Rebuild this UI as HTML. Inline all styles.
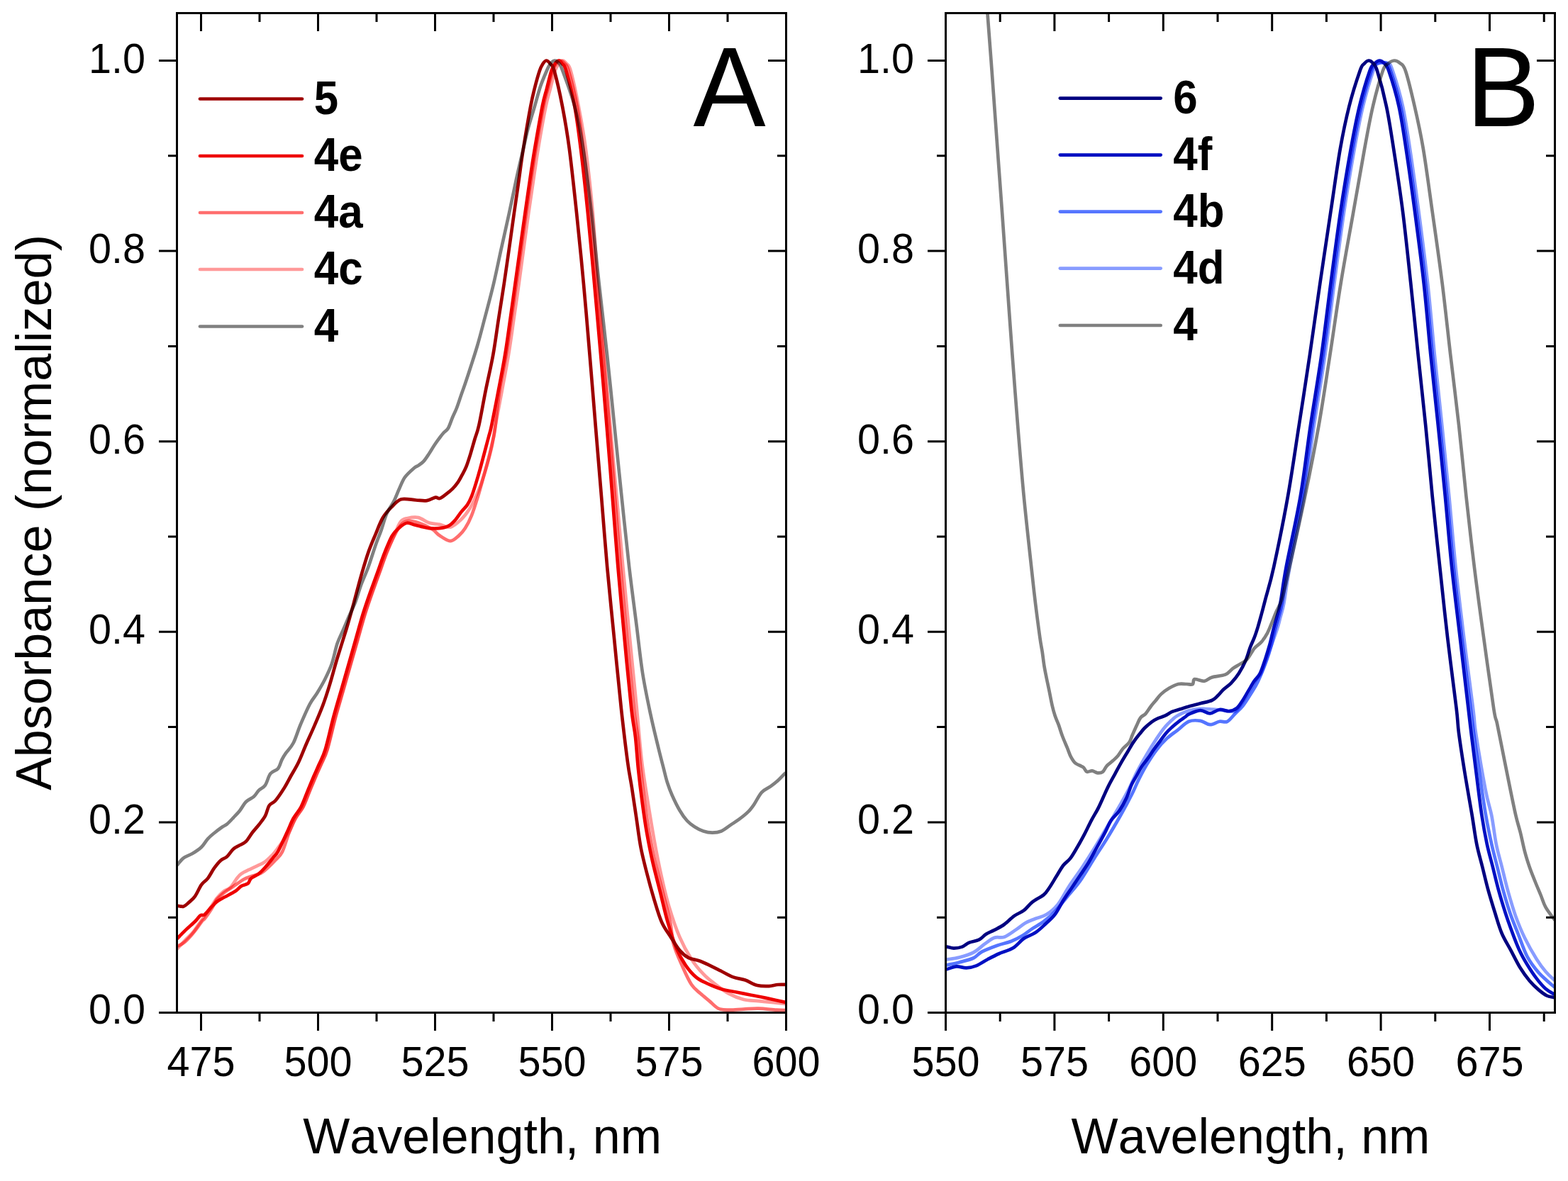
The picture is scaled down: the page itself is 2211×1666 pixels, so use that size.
<!DOCTYPE html>
<html><head><meta charset="utf-8"><title>Absorbance spectra</title>
<style>html,body{margin:0;padding:0;background:#fff;}svg{display:block;}text{font-family:'Liberation Sans', Arial, sans-serif;fill:#000;font-kerning:none;}.d{fill:none;stroke-width:4.7;stroke-linejoin:round;stroke-linecap:round;mix-blend-mode:multiply;}.ax{fill:none;stroke:#000;stroke-width:3;stroke-linecap:square;}.tk{stroke:#000;stroke-width:3;stroke-linecap:butt;}.lg{stroke-width:4.7;stroke-linecap:round;}</style></head><body>
<svg width="2211" height="1666" viewBox="0 0 2211 1666">
<rect width="2211" height="1666" fill="#fff"/>
<defs>
<clipPath id="clipA"><rect x="249.5" y="18.5" width="859.0" height="1410.0"/></clipPath>
<clipPath id="clipB"><rect x="1333.5" y="18.5" width="859.0" height="1410.0"/></clipPath>
</defs>
<g clip-path="url(#clipA)">
<path class="d" stroke="#808080" d="M248,1221 C248.4,1220.7 248.9,1221.1 250.7,1219.3 C252.5,1217.5 255.4,1212.8 258.8,1210.3 C262.2,1207.8 267.2,1206.5 271.4,1204 C275.6,1201.5 280.4,1198.5 284,1195 C287.6,1191.5 290,1186.6 293,1183.3 C296,1180 298.7,1177.9 302,1175.2 C305.3,1172.5 309.8,1169.1 312.8,1167 C315.8,1164.9 317.3,1164.8 320,1162.6 C322.7,1160.4 326,1156.8 329,1153.6 C332,1150.4 335,1147.5 338,1143.7 C341,1139.9 343.7,1134.3 347,1131 C350.3,1127.7 354.9,1126.5 357.9,1123.8 C360.9,1121.1 362.3,1117.5 365,1114.8 C367.7,1112.1 371.3,1111.5 374,1107.6 C376.7,1103.7 378.3,1095.3 381.3,1091.4 C384.3,1087.5 389.3,1087.5 392,1084.2 C394.7,1080.9 395.7,1075.2 397.5,1071.6 C399.3,1068 400.2,1066.5 402.9,1062.6 C405.6,1058.7 410.2,1054.8 413.7,1048 C417.2,1041.2 420,1030.8 423.9,1021.7 C427.8,1012.6 432.9,1000.6 436.8,993.3 C440.7,986 443.7,983.4 447.1,977.8 C450.5,972.2 453.9,966.7 457.4,959.8 C460.8,952.9 464.8,945.1 467.8,936.5 C470.8,927.9 472.9,915.9 475.5,908.1 C478.1,900.4 480.7,896 483.3,890 C485.9,884 488,878.9 491,872 C494,865.1 498.3,856.5 501.3,848.8 C504.3,841 506,833.7 509,825.5 C512,817.3 515.9,809.2 519.4,799.7 C522.9,790.2 526.7,777.3 529.7,768.7 C532.7,760.1 534.9,755.4 537.5,748.1 C540.1,740.8 542.2,731.8 545.2,724.9 C548.2,718 552.5,712.8 555.5,706.8 C558.5,700.8 560.7,694.3 563.3,688.7 C565.9,683.1 567.6,677.9 571,673.2 C574.4,668.5 580.7,663.1 583.9,660.3 C587.1,657.5 587.7,658.2 590,656.6 C592.3,655 595,653.4 597.5,650.6 C600,647.8 602.5,643.8 605,640 C607.5,636.2 610,631.8 612.5,628 C615,624.2 617.8,620.5 620,617.5 C622.2,614.5 624,612.2 626,610 C628,607.8 630,607.5 632,604 C634,600.5 636,593.8 638,589 C640,584.2 642,580.7 644,575.5 C646,570.3 647.7,564.8 650,558 C652.3,551.2 654.2,546.7 658,535 C661.8,523.3 668.7,502.7 673,488 C677.3,473.3 680.1,461.7 684,447 C687.9,432.3 692.3,416.2 696.1,400 C699.9,383.8 703.3,366.7 707,350 C710.7,333.3 714.6,316.2 718.1,300 C721.6,283.8 724.7,268 728,253 C731.3,238 735.1,222.2 737.9,210 C740.7,197.8 742.3,190 745,180 C747.7,170 751.1,159.7 753.9,150 C756.7,140.3 759.2,130.3 762,122 C764.8,113.7 768.5,105.3 770.8,100 C773.1,94.7 774.1,92.4 776,90 C777.9,87.6 780,85.7 782,85.5 C784,85.3 786.1,86.6 788,89 C789.9,91.4 789.7,89.8 793.4,100 C797.1,110.2 805.5,131.7 810.3,150 C815.1,168.3 818.4,185 822.4,210 C826.4,235 830.4,268.3 834.1,300 C837.8,331.7 841.1,366.7 844.7,400 C848.4,433.3 852.4,466.7 856,500 C859.6,533.3 862.9,566.7 866.3,600 C869.7,633.3 873,666.7 876.5,700 C880,733.3 883.7,769.3 887.2,800 C890.8,830.7 894.7,859.2 897.8,884 C900.9,908.8 902.8,928.4 906,949 C909.2,969.6 913.5,989.7 917.3,1007.6 C921.1,1025.5 925.6,1043.4 928.7,1056.3 C931.8,1069.2 934,1077 936,1085 C938,1093 939,1097.8 941,1104 C943,1110.2 944.9,1115.5 947.8,1122 C950.7,1128.5 954.8,1137 958.3,1143 C961.8,1149 965.3,1153.9 968.8,1157.8 C972.3,1161.7 975.4,1163.8 979.3,1166.2 C983.1,1168.7 987.7,1171.1 991.9,1172.5 C996.1,1173.9 1000.3,1174.6 1004.5,1174.6 C1008.7,1174.6 1012.9,1174.2 1017.1,1172.5 C1021.3,1170.8 1025.5,1166.9 1029.7,1164.1 C1033.9,1161.3 1038.1,1158.8 1042.3,1155.7 C1046.5,1152.6 1051.5,1148.7 1055,1145.2 C1058.5,1141.7 1060.2,1139.2 1063.4,1134.6 C1066.6,1130 1070.1,1122 1073.9,1117.8 C1077.8,1113.6 1082.7,1112.2 1086.5,1109.4 C1090.3,1106.6 1093.7,1104 1097,1101 C1100.3,1098 1104.2,1093.6 1106.4,1091.6 C1108.6,1089.6 1109.4,1089.4 1110,1089"/>
<path class="d" stroke="#9E0000" d="M248,1278 C248.4,1278 248.9,1277.7 250.7,1277.8 C252.5,1277.9 256.2,1279.5 258.8,1278.7 C261.4,1278 263.3,1275.7 266,1273.3 C268.7,1270.9 272,1268.5 275,1264.3 C278,1260.1 281,1252.3 284,1248.1 C287,1243.9 290,1243 293,1239.1 C296,1235.2 299,1228.9 302,1224.7 C305,1220.5 308,1216.6 311,1213.9 C314,1211.2 317,1211.2 320,1208.5 C323,1205.8 326,1200.4 329,1197.7 C332,1195 335,1194.1 338,1192.3 C341,1190.5 344,1189.9 347,1186.9 C350,1183.9 353,1178.2 356,1174.3 C359,1170.4 362,1167.4 365,1163.5 C368,1159.6 371.6,1155.4 374,1150.9 C376.4,1146.4 377.1,1140.1 379.5,1136.5 C381.9,1132.9 384.9,1133.4 388.5,1129.2 C392.1,1125 397.4,1116.9 401,1111.2 C404.6,1105.5 406.7,1101 410,1095 C413.3,1089 417.4,1082.7 421,1075.2 C424.6,1067.7 428.2,1058 431.7,1050 C435.2,1042 438.1,1035.9 442,1026.9 C445.9,1017.9 451,1006.2 454.9,995.9 C458.8,985.6 461.8,976.1 465.2,964.9 C468.6,953.7 471.6,941.7 475.5,928.8 C479.4,915.9 484.5,900.4 488.4,887.5 C492.3,874.6 495.2,863.8 498.7,851.3 C502.1,838.8 505.7,824.6 509.1,812.6 C512.6,800.6 516,789 519.4,779.1 C522.8,769.2 526.3,761.5 529.7,753.3 C533.1,745.1 536.1,736.5 540,730 C543.9,723.5 548.7,718.8 553,714.5 C557.3,710.2 560.3,705.7 565.9,704.2 C571.5,702.7 580.5,705.2 586.5,705.5 C592.5,705.8 597.4,706.8 602,706.1 C606.6,705.5 611,702.1 614,701.6 C617,701.1 617.5,703.9 620,703.1 C622.5,702.4 626,699.4 629,697.1 C632,694.9 635.2,692.4 638,689.6 C640.8,686.9 643.2,683.9 645.5,680.6 C647.8,677.4 649.5,673.9 651.5,670.1 C653.5,666.4 655.5,663.1 657.5,658.1 C659.5,653.1 661.5,646.6 663.5,640.1 C665.5,633.6 667.6,625.7 669.6,619 C671.6,612.3 672.7,611.5 675.3,600 C677.9,588.5 681.6,566.7 685,550 C688.4,533.3 692.4,516.7 695.4,500 C698.4,483.3 700.4,466.7 703,450 C705.6,433.3 708.3,416.7 710.8,400 C713.3,383.3 715.6,366.7 718,350 C720.4,333.3 722.8,315.8 725,300 C727.2,284.2 729.4,270 731.5,255 C733.6,240 735.1,227.5 737.9,210 C740.7,192.5 745.5,164.3 748.2,150 C750.9,135.7 751.9,132.3 754,124 C756.1,115.7 758.9,105.7 760.8,100 C762.7,94.3 763.9,92.4 765.5,90 C767.1,87.6 768.8,85.5 770.5,85.5 C772.2,85.5 774.1,87.6 776,90 C777.9,92.4 778.8,90 781.6,100 C784.4,110 789.5,131.7 793,150 C796.5,168.3 799.5,185 802.8,210 C806.1,235 809.6,268.3 813,300 C816.4,331.7 819.8,366.7 822.9,400 C826,433.3 828.7,466.7 831.5,500 C834.3,533.3 837,566.7 839.7,600 C842.5,633.3 845.2,666.7 848,700 C850.8,733.3 853.2,766.7 856.2,800 C859.2,833.3 862.7,866.7 866,900 C869.3,933.3 872.8,970.8 876,1000 C879.2,1029.2 882.5,1056.4 885,1075 C887.5,1093.6 889,1098.4 891,1111.5 C893,1124.6 895.2,1139.6 897.3,1153.6 C899.4,1167.6 901.1,1182.6 903.6,1195.6 C906.1,1208.5 908.9,1219 912,1231.3 C915.1,1243.6 919,1257.6 922.5,1269.2 C926,1280.8 929.1,1292 933,1300.7 C936.9,1309.5 941.5,1315.1 945.7,1321.7 C949.9,1328.3 954.1,1335.7 958.3,1340.6 C962.5,1345.5 966.3,1348.6 970.9,1351.1 C975.5,1353.5 980.7,1353.5 985.6,1355.3 C990.5,1357 995,1359.1 1000.3,1361.6 C1005.5,1364 1011.5,1367.2 1017.1,1370 C1022.7,1372.8 1028.3,1376.3 1033.9,1378.4 C1039.5,1380.5 1045.1,1380.7 1050.7,1382.6 C1056.3,1384.5 1062,1388.6 1067.6,1390 C1073.2,1391.4 1079.5,1391.3 1084.4,1391.1 C1089.3,1390.9 1092.7,1389.3 1097,1389 C1101.3,1388.7 1107.8,1389 1110,1389"/>
<path class="d" stroke="#EE0000" d="M248,1325 C248.5,1324.7 248.5,1325.3 250.9,1323 C253.3,1320.7 258.4,1315.2 262.4,1311.4 C266.4,1307.6 271.5,1303.3 274.9,1300 C278.3,1296.7 280.4,1292.9 282.6,1291.3 C284.8,1289.7 285.7,1292.2 288.3,1290.3 C290.9,1288.4 295.1,1282.8 298,1279.7 C300.9,1276.7 302.4,1274.4 305.6,1272 C308.8,1269.6 312.7,1267.8 317.2,1265.3 C321.7,1262.8 328.7,1259.2 332.5,1256.7 C336.3,1254.2 337.3,1251.8 340.2,1250 C343.1,1248.2 347.6,1247.9 349.8,1246.1 C352.1,1244.3 351.4,1241.5 353.7,1239.4 C355.9,1237.3 360.8,1235.4 363.3,1233.6 C365.9,1231.8 366.6,1231.2 369,1228.8 C371.4,1226.4 375,1222.4 377.7,1219.2 C380.4,1216 383,1212.6 385.4,1209.6 C387.8,1206.6 388.9,1206.9 392.1,1201 C395.3,1195.1 401.1,1182 404.7,1174.3 C408.3,1166.5 410.4,1160.5 413.7,1154.5 C417,1148.5 421.2,1144.6 424.5,1138.3 C427.8,1132 430.5,1123.8 433.5,1116.6 C436.5,1109.4 439.8,1101.3 442.5,1095 C445.2,1088.7 447,1085.1 449.7,1078.8 C452.4,1072.5 455.3,1068.4 458.7,1057.2 C462.1,1046 466.6,1025.1 470.3,1011.4 C474,997.7 477.2,987.2 480.7,975.2 C484.1,963.2 487.6,951.1 491,939.1 C494.4,927.1 497.9,915 501.3,903 C504.7,891 508.2,878 511.6,866.8 C515.1,855.6 518.5,845.8 522,835.9 C525.5,826 528.9,817 532.3,807.5 C535.7,798 539.1,787.7 542.6,779.1 C546.1,770.5 549.5,761.6 553,755.8 C556.5,750 559.9,747.2 563.3,744.2 C566.7,741.2 570.2,738.4 573.6,737.8 C577,737.1 580.5,739.4 583.9,740.3 C587.3,741.1 590.8,742.1 594.3,742.9 C597.8,743.7 600.7,744.7 605,745.1 C609.3,745.5 615.5,745.6 620,745.1 C624.5,744.6 628.5,743.9 632,742.1 C635.5,740.4 638,737.9 641,734.6 C644,731.4 647,726.4 650,722.6 C653,718.9 656.5,715.9 659,712.1 C661.5,708.4 663,705.1 665,700.1 C667,695.1 669,688.6 671,682.1 C673,675.6 675.1,668.4 677.1,661.1 C679.1,653.9 681.1,646.1 683.1,638.6 C685.1,631.1 687.4,622.4 689.1,616 C690.8,609.6 690.9,611 693.2,600 C695.5,589 699.8,566.7 703,550 C706.2,533.3 709.5,516.7 712.2,500 C715,483.3 717.1,466.7 719.5,450 C721.9,433.3 724.2,416.7 726.5,400 C728.8,383.3 731.2,366.7 733.5,350 C735.8,333.3 738.2,315.8 740.5,300 C742.8,284.2 744.8,270 747,255 C749.2,240 751,227.5 754,210 C757,192.5 761.9,164.2 764.7,150 C767.5,135.8 768.9,133.3 771,125 C773.1,116.7 775.6,105.8 777.5,100 C779.4,94.2 780.8,92.4 782.5,90 C784.2,87.6 786.1,85.5 787.9,85.5 C789.6,85.5 791.3,87.6 793,90 C794.7,92.4 795.4,90 798.3,100 C801.2,110 806.9,131.7 810.3,150 C813.7,168.3 815.8,185 818.9,210 C822,235 825.6,268.3 828.8,300 C832,331.7 835.1,366.7 838.1,400 C841.1,433.3 844.1,466.7 847,500 C849.9,533.3 852.8,566.7 855.5,600 C858.2,633.3 860.9,666.7 863.5,700 C866.1,733.3 868.6,766.7 871.4,800 C874.2,833.3 877.4,866.7 880.5,900 C883.6,933.3 887.7,976.7 890.3,1000 C892.9,1023.3 894.4,1025.8 896,1040 C897.6,1054.2 898.4,1069.6 900,1085 C901.6,1100.4 903.7,1117.6 905.7,1132.5 C907.7,1147.4 909.5,1160.6 912,1174.6 C914.5,1188.6 917.2,1202.6 920.4,1216.6 C923.6,1230.6 927.5,1244.6 931,1258.6 C934.5,1272.6 937.6,1287.4 941.5,1300.7 C945.4,1314 949.9,1328.3 954.1,1338.5 C958.3,1348.7 962.2,1354.9 966.7,1361.6 C971.2,1368.2 976.5,1374.2 981.4,1378.4 C986.3,1382.6 990.1,1384.1 996.1,1386.9 C1002.1,1389.7 1010.1,1393.2 1017.1,1395.3 C1024.1,1397.4 1031.1,1398.1 1038.1,1399.5 C1045.1,1400.9 1052.2,1402.3 1059.2,1403.7 C1066.2,1405.1 1071.7,1406.1 1080.2,1407.9 C1088.7,1409.7 1105,1413.4 1110,1414.5"/>
<path class="d" stroke="#FF6E6E" d="M248,1336 C248.5,1335.8 249,1335.5 250.9,1334.5 C252.8,1333.5 256.5,1332.1 259.5,1329.7 C262.5,1327.3 266.2,1323.3 269.1,1320.1 C272,1316.9 274.2,1313.9 276.8,1310.5 C279.4,1307.1 282.4,1302.5 284.5,1299.9 C286.6,1297.3 287.1,1298 289.3,1295.1 C291.6,1292.2 295.3,1286.9 298,1282.6 C300.7,1278.3 303.1,1272.7 305.6,1269.2 C308.2,1265.7 310.7,1263.8 313.3,1261.5 C315.9,1259.2 317.8,1258 321,1255.7 C324.2,1253.5 328.6,1250.6 332.5,1248 C336.4,1245.4 340.6,1242.2 344.1,1240.3 C347.6,1238.4 349.7,1237.9 353.7,1236.5 C357.7,1235.1 364.1,1233.8 368.1,1231.7 C372.1,1229.6 374.5,1226.9 377.7,1224 C380.9,1221.1 383.9,1218.1 387.3,1214.4 C390.7,1210.7 394.5,1208.6 397.9,1201.9 C401.3,1195.2 404.6,1182.2 407.7,1174.3 C410.8,1166.4 413.4,1160.5 416.7,1154.5 C420,1148.5 424.2,1144.6 427.5,1138.3 C430.8,1132 433.5,1123.8 436.5,1116.6 C439.5,1109.4 442.8,1101.3 445.5,1095 C448.2,1088.7 450,1085.1 452.7,1078.8 C455.4,1072.5 458.3,1068.4 461.7,1057.2 C465.1,1046 469.6,1025.1 473.3,1011.4 C477,997.7 480.2,987.2 483.7,975.2 C487.1,963.2 490.6,951.1 494,939.1 C497.4,927.1 500.9,915 504.3,903 C507.7,891 511.2,878 514.6,866.8 C518.1,855.6 521.5,845.8 525,835.9 C528.5,826 531.9,817 535.3,807.5 C538.7,798 542.1,787.7 545.6,779.1 C549.1,770.5 552.8,762.1 556,755.8 C559.2,749.4 561.8,744.5 565,741 C568.2,737.5 570.8,735.6 575,735 C579.2,734.4 584.2,735.7 590,737.6 C595.8,739.5 604.5,743.6 609.5,746.6 C614.5,749.6 615.8,752.9 620,755.6 C624.2,758.4 630.5,763.1 635,763.1 C639.5,763.1 643.5,758.6 647,755.6 C650.5,752.6 653,749.9 656,745.1 C659,740.4 662,734.6 665,727.1 C668,719.6 671.2,709.1 674,700.1 C676.8,691.1 679.1,682.1 681.6,673.1 C684.1,664.1 686.9,654.9 689.1,646.1 C691.4,637.3 693.6,627.4 695.1,620.5 C696.6,613.6 696.4,616.8 698,605 C699.6,593.2 701.9,567.5 704.5,550 C707.1,532.5 711,516.7 713.7,500 C716.5,483.3 718.6,466.7 721,450 C723.4,433.3 725.7,416.7 728,400 C730.3,383.3 732.7,366.7 735,350 C737.3,333.3 739.8,315.8 742,300 C744.2,284.2 746.2,270 748.5,255 C750.8,240 752.5,227.5 755.5,210 C758.5,192.5 763.4,164.2 766.2,150 C769,135.8 770.4,133.3 772.5,125 C774.6,116.7 777.1,105.8 779,100 C780.9,94.2 782.2,92.4 784,90 C785.8,87.6 787.4,85.5 789.5,85.5 C791.6,85.5 794.5,87.6 796.5,90 C798.5,92.4 798.9,90 801.8,100 C804.7,110 810.4,131.7 813.8,150 C817.2,168.3 819.3,185 822.4,210 C825.5,235 829.1,268.3 832.3,300 C835.5,331.7 838.6,366.7 841.6,400 C844.6,433.3 847.6,466.7 850.5,500 C853.4,533.3 856.2,566.7 859,600 C861.8,633.3 864.4,666.7 867,700 C869.6,733.3 872.1,766.7 874.9,800 C877.7,833.3 880.9,866.7 884,900 C887.1,933.3 891.2,976.7 893.8,1000 C896.4,1023.3 897.9,1025.8 899.5,1040 C901.1,1054.2 901.9,1069.6 903.5,1085 C905.1,1100.4 907.2,1117.6 909.2,1132.5 C911.2,1147.4 913,1160.6 915.5,1174.6 C918,1188.6 920.7,1202.6 923.9,1216.6 C927.1,1230.6 931,1244.6 934.5,1258.6 C938,1272.6 942.4,1288.4 945,1300.7 C947.6,1313 947,1321.7 949.9,1332.2 C952.8,1342.7 958.3,1354.2 962.5,1363.7 C966.7,1373.2 970.9,1382.7 975.1,1389 C979.3,1395.3 983.5,1397.8 987.7,1401.6 C991.9,1405.4 996.1,1408.6 1000.3,1412.1 C1004.5,1415.6 1008.4,1420.5 1012.9,1422.6 C1017.4,1424.7 1021.6,1424.5 1027.6,1424.7 C1033.5,1424.9 1041.6,1423.9 1048.6,1423.6 C1055.6,1423.2 1062,1422.4 1069.7,1422.6 C1077.4,1422.8 1088.2,1424.3 1094.9,1424.7 C1101.6,1425.1 1107.5,1425 1110,1425"/>
<path class="d" stroke="#FF9999" d="M248,1340 C248.5,1339.6 248.5,1339.9 250.9,1337.4 C253.3,1334.9 258.9,1328.6 262.4,1324.9 C265.9,1321.2 268.8,1319.2 272,1315.3 C275.2,1311.4 277.9,1306.9 281.6,1301.8 C285.3,1296.7 290.1,1290.3 294.1,1284.5 C298.1,1278.7 302.1,1271.7 305.6,1267.2 C309.1,1262.7 312,1260.1 315.2,1257.6 C318.4,1255 321.6,1255.1 324.8,1251.9 C328,1248.7 331.9,1241.6 334.5,1238.4 C337.1,1235.2 337.8,1234.5 340.2,1232.7 C342.6,1231 345,1229.8 348.9,1227.9 C352.8,1226 359.3,1223 363.3,1221.1 C367.3,1219.2 369.7,1218.5 372.9,1216.3 C376.1,1214.1 379.8,1210.4 382.5,1207.7 C385.2,1205 385.1,1205.6 389.2,1200 C393.3,1194.4 402.7,1181.9 407.2,1174.3 C411.7,1166.7 412.9,1160.5 416.2,1154.5 C419.5,1148.5 423.7,1144.6 427,1138.3 C430.3,1132 433,1123.8 436,1116.6 C439,1109.4 442.3,1101.3 445,1095 C447.7,1088.7 449.5,1085.1 452.2,1078.8 C454.9,1072.5 457.8,1068.4 461.2,1057.2 C464.6,1046 469.1,1025.1 472.8,1011.4 C476.5,997.7 479.8,987.2 483.2,975.2 C486.6,963.2 490.1,951.1 493.5,939.1 C496.9,927.1 500.4,915 503.8,903 C507.2,891 510.7,878 514.1,866.8 C517.6,855.6 521,845.8 524.5,835.9 C528,826 531.4,817 534.8,807.5 C538.2,798 541.6,787.7 545.1,779.1 C548.6,770.5 552.2,763 555.5,755.8 C558.8,748.6 561.8,740.1 565,736 C568.2,731.9 570.8,732 575,731 C579.2,730 585,729 590,730.1 C595,731.2 600,736 605,737.6 C610,739.2 615,738.9 620,739.9 C625,740.9 630,744.7 635,743.6 C640,742.5 645.5,737.4 650,733.1 C654.5,728.9 658.5,723.6 662,718.1 C665.5,712.6 668.2,706.1 671,700.1 C673.8,694.1 676.1,689.1 678.6,682.1 C681.1,675.1 683.6,666.9 686.1,658.1 C688.6,649.4 691.5,639.3 693.6,629.6 C695.7,619.9 696.2,613.3 698.6,600 C701,586.7 704.9,566.7 708,550 C711.1,533.3 714.4,516.7 717.1,500 C719.9,483.3 722.1,466.7 724.5,450 C726.9,433.3 729.4,416.7 731.7,400 C734,383.3 736.2,366.7 738.5,350 C740.8,333.3 743.1,315.8 745.4,300 C747.6,284.2 749.8,270 752,255 C754.2,240 755.9,227.5 758.8,210 C761.7,192.5 766.7,164.2 769.6,150 C772.5,135.8 773.9,133.3 776,125 C778.1,116.7 780.5,105.8 782.5,100 C784.5,94.2 786.2,92.4 788,90 C789.8,87.6 791.7,85.5 793.5,85.5 C795.3,85.5 797.1,87.6 799,90 C800.9,92.4 801.9,90 804.7,100 C807.5,110 812.3,131.7 815.8,150 C819.3,168.3 822.6,185 825.9,210 C829.2,235 832.9,268.3 835.8,300 C838.6,331.7 840.3,366.7 843,400 C845.7,433.3 849.1,466.7 852,500 C854.9,533.3 857.5,566.7 860.4,600 C863.3,633.3 866.5,666.7 869.5,700 C872.5,733.3 875.3,766.7 878.4,800 C881.5,833.3 884.8,866.7 888,900 C891.2,933.3 895.6,975.8 897.9,1000 C900.2,1024.2 900.7,1031.7 902,1045 C903.3,1058.3 904,1067.2 905.7,1080 C907.4,1092.8 909.2,1104.5 912,1122 C914.8,1139.5 919,1165.8 922.5,1185.1 C926,1204.4 929.5,1221.8 933,1237.6 C936.5,1253.4 939.4,1265.7 943.6,1279.7 C947.8,1293.7 953,1309.5 958.3,1321.7 C963.5,1334 969.5,1344.5 975.1,1353.2 C980.7,1362 986.6,1368.6 991.9,1374.2 C997.1,1379.8 1000.7,1382.3 1006.6,1386.9 C1012.5,1391.5 1020.6,1397.8 1027.6,1401.6 C1034.6,1405.4 1041.6,1408.2 1048.6,1410 C1055.6,1411.8 1062.7,1411.4 1069.7,1412.1 C1076.7,1412.8 1084,1413.5 1090.7,1414.2 C1097.4,1414.9 1106.8,1416 1110,1416.3"/>
</g>
<g clip-path="url(#clipB)">
<path class="d" stroke="#808080" d="M1391,0 C1391.2,3.2 1391.2,2.8 1392.5,19.5 C1393.8,36.2 1396.4,69.9 1398.6,100 C1400.8,130.1 1403.4,166.7 1405.8,200 C1408.2,233.3 1410.7,266.7 1413.1,300 C1415.5,333.3 1417.8,366.7 1420.2,400 C1422.6,433.3 1424.9,466.7 1427.4,500 C1429.9,533.3 1432.4,566.7 1435.1,600 C1437.8,633.3 1440.5,666.7 1443.7,700 C1446.9,733.3 1451.6,775 1454.3,800 C1457,825 1457.9,833.4 1459.9,850 C1461.9,866.6 1464.8,888.2 1466.4,899.8 C1468,911.4 1468.7,913 1469.7,919.6 C1470.7,926.2 1471.4,933.2 1472.4,939.4 C1473.4,945.6 1474.5,950.6 1475.7,956.6 C1476.9,962.6 1478.3,968.7 1479.6,975.1 C1480.9,981.5 1482.3,989.2 1483.6,994.9 C1484.9,1000.6 1486.1,1004.9 1487.6,1009.5 C1489.1,1014.1 1491,1017.9 1492.8,1022.7 C1494.5,1027.5 1496.1,1033.2 1498.1,1038.5 C1500.1,1043.8 1502.7,1049.6 1504.7,1054.4 C1506.7,1059.2 1508,1063.9 1510,1067.6 C1512,1071.3 1513.7,1074.4 1516.6,1076.8 C1519.5,1079.2 1524.5,1080.1 1527.2,1082.1 C1529.9,1084.1 1530.4,1087.8 1532.5,1088.7 C1534.6,1089.6 1537.5,1087.1 1540,1087.4 C1542.5,1087.7 1545.2,1090 1547.7,1090.3 C1550.2,1090.5 1552.7,1090.6 1554.9,1088.9 C1557.1,1087.2 1558.3,1082.9 1560.7,1080.3 C1563.1,1077.7 1566.7,1075.5 1569.3,1073.1 C1571.9,1070.7 1574.1,1068.8 1576.5,1065.9 C1578.9,1063 1581,1058.9 1583.7,1055.8 C1586.4,1052.7 1590.2,1050.2 1592.4,1047.1 C1594.6,1044 1595,1040.8 1596.7,1037 C1598.4,1033.2 1600.6,1028.2 1602.5,1024.1 C1604.4,1020 1606,1015.4 1608.2,1012.5 C1610.4,1009.6 1613,1009.4 1615.4,1006.8 C1617.8,1004.2 1620.2,999.8 1622.6,996.7 C1625,993.6 1627.4,990.9 1629.8,988 C1632.2,985.1 1633.9,982.3 1637,979.4 C1640.1,976.5 1644.5,973.2 1648.6,970.8 C1652.7,968.4 1657.4,966 1661.5,965 C1665.6,964 1669.7,965 1673.1,965 C1676.5,965 1679.8,966.4 1681.7,965.2 C1683.6,964.1 1681.7,958.8 1684.4,958.1 C1687.1,957.4 1693.9,961.4 1698,960.9 C1702.1,960.4 1703.8,956.9 1708.8,955.4 C1713.8,953.9 1722.9,953.6 1727.8,951.6 C1732.7,949.6 1734.8,945.6 1738.2,943.1 C1741.6,940.6 1745,939.1 1748.4,936.9 C1751.8,934.7 1755.2,933.5 1758.6,929.8 C1762,926.1 1765.4,918.6 1768.8,914.5 C1772.2,910.4 1776,908.9 1779,905.3 C1782,901.7 1784.7,897.5 1787.1,893.1 C1789.5,888.7 1791.2,883.7 1793.3,878.8 C1795.3,873.9 1797,869.1 1799.4,863.5 C1801.8,857.9 1804.4,855.7 1807.6,845.1 C1810.8,834.5 1812.9,824.2 1818.3,800 C1823.7,775.8 1833.3,733.3 1840.2,700 C1847.1,666.7 1853.7,633.3 1859.6,600 C1865.5,566.7 1870.3,533.3 1875.5,500 C1880.7,466.7 1885.1,433.3 1890.6,400 C1896,366.7 1902.6,331.7 1908.2,300 C1913.8,268.3 1919.5,235 1924.1,210 C1928.7,185 1931.6,168.3 1935.9,150 C1940.2,131.7 1946.3,110 1949.8,100 C1953.3,90 1954.3,92.4 1957,90 C1959.7,87.6 1963.1,85.7 1965.9,85.5 C1968.7,85.3 1971.3,86.6 1974,89 C1976.7,91.4 1978.5,89.8 1981.9,100 C1985.4,110.2 1990.5,131.7 1994.7,150 C1998.9,168.3 2002.7,185 2006.9,210 C2011.1,235 2015.4,268.3 2019.9,300 C2024.4,331.7 2029.5,366.7 2033.7,400 C2037.9,433.3 2041.3,466.7 2045.2,500 C2049.1,533.3 2053.4,566.7 2057.1,600 C2060.8,633.3 2063.8,666.7 2067.4,700 C2071,733.3 2074.8,766.7 2078.9,800 C2083,833.3 2087.6,866.7 2092.2,900 C2096.8,933.3 2103.2,979.9 2106.3,1000 C2109.4,1020.1 2108.9,1010.3 2111,1020.5 C2113.1,1030.7 2116.4,1047.5 2119.1,1061 C2121.8,1074.5 2124.2,1086.7 2127.2,1101.5 C2130.2,1116.3 2134.5,1137.9 2137.3,1150 C2140.1,1162.1 2141.7,1165.6 2143.8,1174.3 C2146,1183 2148,1193.8 2150.2,1201.9 C2152.3,1210 2154.3,1216 2156.7,1223 C2159.1,1230 2162.1,1237.2 2164.8,1244 C2167.5,1250.8 2170.5,1257.5 2172.9,1263.5 C2175.3,1269.5 2176.4,1274.3 2179.4,1279.7 C2182.4,1285.1 2188.2,1292.5 2190.8,1295.9 C2193.4,1299.3 2194.3,1299.3 2195,1300"/>
<path class="d" stroke="#000080" d="M1331,1336 C1331.7,1335.9 1332.7,1335.3 1335,1335.6 C1337.3,1335.9 1341.3,1337.6 1344.9,1337.6 C1348.5,1337.6 1353.2,1336.9 1356.8,1335.6 C1360.4,1334.3 1362.8,1331.3 1366.7,1329.7 C1370.7,1328.1 1376.5,1327.7 1380.5,1325.7 C1384.5,1323.7 1386.8,1320.1 1390.4,1317.8 C1394,1315.5 1398,1314.2 1402.3,1311.9 C1406.6,1309.6 1411.6,1307.3 1416.2,1304 C1420.8,1300.7 1425.4,1295.4 1430,1292.1 C1434.6,1288.8 1439.6,1287.5 1443.9,1284.2 C1448.2,1280.9 1451.2,1275.9 1455.8,1272.3 C1460.4,1268.7 1467.6,1265.7 1471.6,1262.4 C1475.5,1259.1 1476.5,1256.8 1479.5,1252.5 C1482.5,1248.2 1486.1,1241.9 1489.4,1236.6 C1492.7,1231.3 1496,1225.1 1499.3,1220.8 C1502.6,1216.5 1505.9,1215.2 1509.2,1210.9 C1512.5,1206.6 1515.8,1200.6 1519.1,1195 C1522.4,1189.4 1525.7,1183.5 1529,1177.2 C1532.3,1170.9 1535.6,1163.7 1538.9,1157.4 C1542.2,1151.1 1545.7,1145.8 1548.8,1139.6 C1551.9,1133.4 1555.3,1125.3 1557.8,1120 C1560.3,1114.7 1561.2,1112.3 1563.6,1107.6 C1566,1102.9 1569.3,1097.1 1572.2,1091.8 C1575.1,1086.5 1578,1081 1580.9,1075.9 C1583.8,1070.9 1586.6,1066.3 1589.5,1061.5 C1592.4,1056.7 1595.2,1051.4 1598.1,1047.1 C1601,1042.8 1604.1,1038.9 1606.8,1035.6 C1609.5,1032.2 1611.1,1029.9 1614,1027 C1616.9,1024.1 1621,1020.6 1624.1,1018.3 C1627.2,1016 1629.6,1014.7 1632.7,1013.3 C1635.8,1011.9 1639.4,1011.3 1642.8,1009.7 C1646.2,1008.1 1649.3,1005.5 1652.9,1003.9 C1656.5,1002.3 1660.6,1001.5 1664.4,1000.3 C1668.2,999.1 1671.2,998 1675.9,996.7 C1680.6,995.4 1687.1,993.8 1692.6,992.3 C1698.1,990.8 1704.7,989.8 1708.8,988 C1712.9,986.2 1714.3,984 1717,981.5 C1719.7,979 1721.9,975.8 1725.1,972.8 C1728.3,969.8 1732.4,967.4 1736,963.6 C1739.6,959.8 1743.4,955.3 1746.8,950 C1750.2,944.7 1753.8,937.9 1756.5,931.8 C1759.2,925.7 1760.7,918.9 1762.7,913.5 C1764.8,908.1 1766.9,904.1 1768.8,899.2 C1770.7,894.3 1772.2,889.5 1773.9,883.9 C1775.6,878.3 1777.3,871.8 1779,865.5 C1780.7,859.2 1781.2,857 1784.1,846.1 C1786.9,835.2 1790.8,824.4 1796.1,800 C1801.4,775.6 1810.1,733.3 1816,700 C1821.9,666.7 1826.5,633.3 1831.7,600 C1836.9,566.7 1842.1,533.3 1847,500 C1851.9,466.7 1856.4,433.3 1861.3,400 C1866.2,366.7 1871.5,331.7 1876.2,300 C1881,268.3 1885.4,235 1889.8,210 C1894.2,185 1897.8,168.3 1902.4,150 C1907,131.7 1914.1,110 1917.6,100 C1921.1,90 1921.5,92.4 1923.5,90 C1925.5,87.6 1927.7,85.7 1929.8,85.5 C1931.9,85.3 1934,86.6 1936,89 C1938,91.4 1938.8,89.8 1942,100 C1945.2,110.2 1951.1,131.7 1954.9,150 C1958.8,168.3 1961.2,185 1965.1,210 C1969,235 1974.2,268.3 1978.2,300 C1982.2,331.7 1985.7,366.7 1989.3,400 C1992.9,433.3 1996.1,466.7 1999.6,500 C2003.1,533.3 2006.8,566.7 2010.2,600 C2013.6,633.3 2016.4,666.7 2019.7,700 C2023,733.3 2026.7,766.7 2030.3,800 C2033.9,833.3 2037.3,866.7 2041.2,900 C2045.1,933.3 2051.1,977.7 2053.7,1000 C2056.3,1022.3 2055.1,1019.3 2057,1034 C2058.9,1048.7 2062,1068.7 2065.1,1088 C2068.2,1107.3 2072.8,1132.9 2075.7,1150 C2078.5,1167.1 2079.8,1178.3 2082.2,1190.5 C2084.6,1202.7 2087.6,1212.2 2090.3,1223 C2093,1233.8 2095.4,1244.6 2098.4,1255.4 C2101.4,1266.2 2104.9,1277.5 2108.1,1287.8 C2111.3,1298.1 2114,1308.1 2117.8,1317 C2121.6,1325.9 2126.5,1333.2 2130.8,1341.3 C2135.1,1349.4 2139.5,1358.6 2143.8,1365.6 C2148.1,1372.6 2152.4,1378.4 2156.7,1383.5 C2161,1388.6 2165.6,1392.9 2169.7,1396.4 C2173.8,1399.9 2177.5,1402.7 2181,1404.5 C2184.5,1406.3 2188.5,1406.4 2190.8,1407 C2193.1,1407.6 2194.3,1407.8 2195,1408"/>
<path class="d" stroke="#0010C2" d="M1331,1368 C1331.7,1367.9 1332,1368.1 1335,1367.3 C1338,1366.5 1344.2,1363.7 1348.8,1363.4 C1353.4,1363.1 1358.1,1365.5 1362.7,1365.3 C1367.3,1365.1 1371.6,1364.4 1376.6,1362.4 C1381.5,1360.4 1387.1,1356.3 1392.4,1353.5 C1397.7,1350.7 1402.3,1348.2 1408.2,1345.5 C1414.1,1342.8 1422,1341.2 1428,1337.6 C1434,1334 1438.6,1327.4 1443.9,1323.8 C1449.2,1320.2 1454.8,1319.1 1459.7,1315.8 C1464.7,1312.5 1469,1308.3 1473.6,1304 C1478.2,1299.7 1483.2,1295.7 1487.5,1290.1 C1491.8,1284.5 1495.3,1276.6 1499.3,1270.3 C1503.2,1264 1507.2,1258.4 1511.2,1252.5 C1515.2,1246.6 1519.1,1240.7 1523.1,1234.7 C1527.1,1228.8 1531,1223.4 1535,1216.8 C1539,1210.2 1543,1202.2 1546.9,1195 C1550.9,1187.8 1555.4,1179.6 1558.7,1173.3 C1562,1167 1563.4,1162.4 1566.7,1157.4 C1570,1152.5 1574.9,1148.9 1578.5,1143.6 C1582.1,1138.3 1585.6,1131.7 1588.4,1125.7 C1591.2,1119.7 1593,1112.8 1595.3,1107.6 C1597.6,1102.4 1600.1,1099 1602.5,1094.7 C1604.9,1090.4 1607.1,1085.8 1609.7,1081.7 C1612.3,1077.6 1615.4,1074.3 1618.3,1070.2 C1621.2,1066.1 1624.1,1061.3 1627,1057.2 C1629.9,1053.1 1632.7,1049.5 1635.6,1045.7 C1638.5,1041.9 1641.3,1037.6 1644.2,1034.2 C1647.1,1030.8 1650,1028.2 1652.9,1025.5 C1655.8,1022.9 1658.4,1020.7 1661.5,1018.3 C1664.6,1015.9 1669.1,1012.9 1671.6,1011.1 C1674.1,1009.3 1672.8,1009 1676.3,1007.5 C1679.8,1006 1687.6,1002.3 1692.6,1002.1 C1697.6,1001.9 1701.6,1006.6 1706.1,1006.4 C1710.6,1006.2 1715.2,1001.5 1719.7,1001 C1724.2,1000.5 1729.2,1003.6 1733.3,1003.2 C1737.4,1002.8 1740.9,1001.3 1744.1,998.8 C1747.3,996.3 1749.6,992.1 1752.3,988 C1755,983.9 1757.7,978.9 1760.4,974.4 C1763.1,969.9 1765.8,965 1768.5,960.9 C1771.2,956.8 1774.1,955.1 1776.7,950 C1779.3,944.9 1781.8,936.7 1784.1,930 C1786.3,923.3 1788.3,916.8 1790.2,910 C1792.1,903.2 1793.6,895.6 1795.3,889 C1797,882.4 1798.7,877.1 1800.4,870.6 C1802.1,864.1 1803.3,862 1805.5,850.2 C1807.7,838.4 1808.9,825 1813.6,800 C1818.3,775 1828,733.3 1833.7,700 C1839.4,666.7 1842.9,633.3 1847.9,600 C1852.9,566.7 1858.8,533.3 1863.5,500 C1868.2,466.7 1872,433.3 1876.4,400 C1880.8,366.7 1885.3,331.7 1890,300 C1894.7,268.3 1900.3,235 1904.8,210 C1909.3,185 1912.5,168.3 1916.9,150 C1921.3,131.7 1927.9,110 1931.4,100 C1934.9,90 1935.8,92.4 1938,90 C1940.2,87.6 1942.7,85.7 1944.9,85.5 C1947.2,85.3 1949.3,86.6 1951.5,89 C1953.7,91.4 1954.8,89.8 1958.3,100 C1961.8,110.2 1968.5,131.7 1972.5,150 C1976.5,168.3 1978.8,185 1982.6,210 C1986.4,235 1991,268.3 1995.2,300 C1999.4,331.7 2004,366.7 2007.7,400 C2011.4,433.3 2014,466.7 2017.3,500 C2020.6,533.3 2024.4,566.7 2027.8,600 C2031.2,633.3 2034.6,666.7 2037.8,700 C2041,733.3 2043.6,766.7 2047.1,800 C2050.6,833.3 2054.9,866.7 2058.8,900 C2062.7,933.3 2067.9,977.7 2070.5,1000 C2073.1,1022.3 2072.7,1019.3 2074.5,1034 C2076.3,1048.7 2078.8,1068.7 2081.3,1088 C2083.8,1107.3 2086.8,1132.9 2089.4,1150 C2092,1167.1 2094.1,1178.3 2096.7,1190.5 C2099.3,1202.7 2102.2,1212.2 2104.9,1223 C2107.6,1233.8 2110,1244.6 2113,1255.4 C2116,1266.2 2119.5,1277.8 2122.7,1287.8 C2125.9,1297.8 2129.2,1306.8 2132.4,1315.4 C2135.6,1324.1 2138.6,1332.1 2142.1,1339.7 C2145.6,1347.3 2149.4,1354 2153.5,1360.8 C2157.6,1367.5 2162.2,1374.5 2166.5,1380.2 C2170.8,1385.9 2175.3,1391.2 2179.4,1394.8 C2183.5,1398.4 2188.2,1400.7 2190.8,1402.1 C2193.4,1403.5 2194.3,1402.8 2195,1403"/>
<path class="d" stroke="#5575FF" d="M1331,1362 C1331.7,1361.9 1331.4,1362.2 1335,1361.4 C1338.6,1360.6 1346.5,1359.1 1352.8,1357.4 C1359.1,1355.8 1367.3,1354 1372.6,1351.5 C1377.9,1349 1378.9,1345.6 1384.5,1342.6 C1390.1,1339.6 1399.4,1336.2 1406.3,1333.7 C1413.2,1331.2 1420.2,1330 1426.1,1327.7 C1432,1325.4 1437,1322.8 1441.9,1319.8 C1446.9,1316.8 1450.8,1313.2 1455.8,1309.9 C1460.8,1306.6 1466.3,1304 1471.6,1300 C1476.9,1296 1481.9,1292 1487.5,1286.1 C1493.1,1280.2 1499.4,1271.7 1505.3,1264.4 C1511.2,1257.2 1516.8,1251.5 1523.1,1242.6 C1529.4,1233.7 1536.6,1220.8 1542.9,1210.9 C1549.2,1201 1554.4,1193.4 1560.7,1183.2 C1567,1173 1574.5,1160.1 1580.5,1149.5 C1586.5,1138.9 1592.3,1128 1596.4,1119.8 C1600.5,1111.6 1601.9,1107.2 1605.3,1100.4 C1608.7,1093.6 1612.6,1086 1616.9,1078.8 C1621.2,1071.6 1626.5,1063.4 1631.3,1057.2 C1636.1,1051 1640.9,1045.9 1645.7,1041.4 C1650.5,1036.9 1654.9,1034.2 1660,1030.3 C1665.1,1026.4 1670.9,1020 1676.3,1017.8 C1681.7,1015.5 1687.6,1016.1 1692.6,1016.8 C1697.6,1017.5 1701.6,1022 1706.1,1022.2 C1710.6,1022.4 1715.6,1018.5 1719.7,1017.8 C1723.8,1017.1 1727,1019.6 1730.6,1017.8 C1734.2,1016 1737.8,1010.6 1741.4,1007 C1745,1003.4 1748.7,1000.6 1752.3,996.1 C1755.9,991.6 1759.5,985.8 1763.1,979.9 C1766.7,974 1770.1,969.2 1774,960.9 C1777.9,952.6 1783.5,938.5 1786.6,930 C1789.7,921.5 1790.8,916.8 1792.7,910 C1794.6,903.2 1796.1,895.6 1797.8,889 C1799.5,882.4 1801.2,877.1 1802.9,870.6 C1804.6,864.1 1805.8,862 1808,850.2 C1810.2,838.4 1811.4,825 1816.1,800 C1820.8,775 1830.5,733.3 1836.2,700 C1841.9,666.7 1845.4,633.3 1850.4,600 C1855.4,566.7 1861.2,533.3 1866,500 C1870.8,466.7 1874.5,433.3 1878.9,400 C1883.3,366.7 1887.8,331.7 1892.5,300 C1897.2,268.3 1902.8,235 1907.3,210 C1911.8,185 1915,168.3 1919.4,150 C1923.8,131.7 1930.4,110 1933.9,100 C1937.4,90 1937.2,91.8 1940.5,90 C1943.8,88.2 1950.6,87.3 1954,89 C1957.4,90.7 1957.3,89.8 1960.8,100 C1964.3,110.2 1971,131.7 1975,150 C1979,168.3 1981.3,185 1985.1,210 C1988.9,235 1993.5,268.3 1997.7,300 C2001.9,331.7 2006.5,366.7 2010.2,400 C2013.9,433.3 2016.5,466.7 2019.8,500 C2023.1,533.3 2026.9,566.7 2030.3,600 C2033.7,633.3 2037.1,666.7 2040.3,700 C2043.5,733.3 2046.1,766.7 2049.6,800 C2053.1,833.3 2056.6,861 2061.3,900 C2066,939 2073.9,1002.3 2078,1034 C2082.1,1065.7 2083.2,1070.7 2086,1090 C2088.8,1109.3 2092.2,1133.2 2095.1,1150 C2098,1166.8 2100.5,1178.3 2103.2,1190.5 C2105.9,1202.7 2108.6,1212.2 2111.3,1223 C2114,1233.8 2116.4,1244.6 2119.4,1255.4 C2122.4,1266.2 2125.7,1277.5 2129.2,1287.8 C2132.7,1298.1 2136.4,1306.7 2140.5,1317 C2144.6,1327.3 2148.6,1340.2 2153.5,1349.4 C2158.4,1358.6 2163.5,1365.1 2169.7,1372.1 C2175.9,1379.1 2186.6,1387.9 2190.8,1391.6 C2195,1395.2 2194.3,1393.6 2195,1394"/>
<path class="d" stroke="#889CFF" d="M1331,1354 C1331.7,1353.9 1331.4,1354.1 1335,1353.5 C1338.6,1352.9 1346.5,1352.2 1352.8,1350.5 C1359.1,1348.8 1366.7,1346.7 1372.6,1343.6 C1378.5,1340.5 1383.5,1335.2 1388.4,1331.7 C1393.4,1328.2 1397.7,1324.5 1402.3,1322.8 C1406.9,1321.1 1411.2,1323.6 1416.2,1321.8 C1421.2,1320 1427,1315.2 1432,1311.9 C1437,1308.6 1441.3,1304.7 1445.9,1302 C1450.5,1299.3 1454.8,1298 1459.7,1296 C1464.7,1294 1470.3,1293.4 1475.6,1290.1 C1480.9,1286.8 1486.1,1282.8 1491.4,1276.2 C1496.7,1269.6 1501.7,1259.1 1507.3,1250.5 C1512.9,1241.9 1519.2,1233.7 1525.1,1224.8 C1531,1215.9 1537,1206.6 1542.9,1197 C1548.8,1187.4 1554.4,1177.8 1560.7,1167.3 C1567,1156.8 1575.2,1142.9 1580.5,1133.7 C1585.8,1124.5 1588.7,1119.1 1592.4,1111.9 C1596.1,1104.7 1598.4,1098.2 1602.5,1090.3 C1606.6,1082.4 1612.1,1072.6 1616.9,1064.4 C1621.7,1056.2 1627,1047.9 1631.3,1041.4 C1635.6,1034.9 1639.2,1029.8 1642.8,1025.5 C1646.4,1021.2 1650,1018 1652.9,1015.4 C1655.8,1012.8 1656.1,1011.8 1660,1009.7 C1663.9,1007.6 1670.9,1004.2 1676.3,1002.6 C1681.7,1001 1687.2,1000.2 1692.6,999.9 C1698,999.5 1703.4,1000.1 1708.8,1000.5 C1714.2,1000.9 1719.7,1001.6 1725.1,1002.1 C1730.5,1002.6 1737.4,1004.9 1741.4,1003.7 C1745.4,1002.5 1746.4,998.5 1749,995 C1751.6,991.5 1753.5,988.7 1757,983 C1760.5,977.3 1766.5,966.4 1770,960.9 C1773.5,955.4 1775.6,955.1 1778.2,950 C1780.8,944.9 1781.9,940.2 1785.6,930 C1789.3,919.8 1797,898.9 1800.3,889 C1803.6,879.1 1803.7,877.1 1805.4,870.6 C1807.1,864.1 1808.3,862 1810.5,850.2 C1812.7,838.4 1813.9,825 1818.6,800 C1823.3,775 1833,733.3 1838.7,700 C1844.4,666.7 1847.9,633.3 1852.9,600 C1857.9,566.7 1863.8,533.3 1868.5,500 C1873.2,466.7 1877,433.3 1881.4,400 C1885.8,366.7 1890.3,331.7 1895,300 C1899.7,268.3 1905.3,235 1909.8,210 C1914.3,185 1917.5,168.3 1921.9,150 C1926.3,131.7 1932.9,110 1936.4,100 C1939.9,90 1939.6,91.8 1943,90 C1946.4,88.2 1953.5,87.3 1957,89 C1960.5,90.7 1960.3,89.8 1963.8,100 C1967.3,110.2 1974,131.7 1978,150 C1982,168.3 1984.3,185 1988.1,210 C1991.9,235 1996.5,268.3 2000.7,300 C2004.9,331.7 2009.5,366.7 2013.2,400 C2016.9,433.3 2019.5,466.7 2022.8,500 C2026.1,533.3 2029.9,566.7 2033.3,600 C2036.7,633.3 2040.1,666.7 2043.3,700 C2046.5,733.3 2049.1,766.7 2052.6,800 C2056.1,833.3 2060.2,866.7 2064.3,900 C2068.4,933.3 2074.4,977.7 2077.2,1000 C2080,1022.3 2078.1,1014.8 2081,1034 C2083.9,1053.2 2091.1,1095.7 2094.8,1115 C2098.5,1134.3 2100.7,1137.4 2103.2,1150 C2105.7,1162.6 2107.3,1178.3 2109.7,1190.5 C2112.1,1202.7 2115.1,1212.2 2117.8,1223 C2120.5,1233.8 2122.7,1243.8 2125.9,1255.4 C2129.2,1267 2133.2,1281.4 2137.3,1292.7 C2141.4,1304 2145.3,1313.5 2150.2,1323.5 C2155.1,1333.5 2161.6,1344.9 2166.5,1352.7 C2171.4,1360.5 2175.3,1365.7 2179.4,1370.5 C2183.5,1375.3 2188.2,1379.5 2190.8,1381.8 C2193.4,1384 2194.3,1383.6 2195,1384"/>
</g>
<rect class="ax" x="249.5" y="18.5" width="859.0" height="1410.0"/>
<path class="tk" d="M283.5,1428.5v25.5 M283.5,18.5v25.5 M366,1428.5v12.5 M366,18.5v12.5 M448.5,1428.5v25.5 M448.5,18.5v25.5 M531,1428.5v12.5 M531,18.5v12.5 M613.5,1428.5v25.5 M613.5,18.5v25.5 M696,1428.5v12.5 M696,18.5v12.5 M778.5,1428.5v25.5 M778.5,18.5v25.5 M861,1428.5v12.5 M861,18.5v12.5 M943.5,1428.5v25.5 M943.5,18.5v25.5 M1026,1428.5v12.5 M1026,18.5v12.5 M1108.5,1428.5v25.5 M1108.5,18.5v25.5 M249.5,1428.5h-25.5 M1108.5,1428.5h-25.5 M249.5,1294.2h-12.5 M1108.5,1294.2h-12.5 M249.5,1159.9h-25.5 M1108.5,1159.9h-25.5 M249.5,1025.6h-12.5 M1108.5,1025.6h-12.5 M249.5,891.3h-25.5 M1108.5,891.3h-25.5 M249.5,757h-12.5 M1108.5,757h-12.5 M249.5,622.7h-25.5 M1108.5,622.7h-25.5 M249.5,488.4h-12.5 M1108.5,488.4h-12.5 M249.5,354.1h-25.5 M1108.5,354.1h-25.5 M249.5,219.8h-12.5 M1108.5,219.8h-12.5 M249.5,85.5h-25.5 M1108.5,85.5h-25.5"/>
<text transform="translate(283.5,1518) scale(0.98,1)" font-size="58.7" text-anchor="middle">475</text>
<text transform="translate(448.5,1518) scale(0.98,1)" font-size="58.7" text-anchor="middle">500</text>
<text transform="translate(613.5,1518) scale(0.98,1)" font-size="58.7" text-anchor="middle">525</text>
<text transform="translate(778.5,1518) scale(0.98,1)" font-size="58.7" text-anchor="middle">550</text>
<text transform="translate(943.5,1518) scale(0.98,1)" font-size="58.7" text-anchor="middle">575</text>
<text transform="translate(1108.5,1518) scale(0.98,1)" font-size="58.7" text-anchor="middle">600</text>
<text transform="translate(204.9,1443.6) scale(0.98,1)" font-size="58.7" text-anchor="end">0.0</text>
<text transform="translate(204.9,1175.6) scale(0.98,1)" font-size="58.7" text-anchor="end">0.2</text>
<text transform="translate(204.9,907.5) scale(0.98,1)" font-size="58.7" text-anchor="end">0.4</text>
<text transform="translate(204.9,639.5) scale(0.98,1)" font-size="58.7" text-anchor="end">0.6</text>
<text transform="translate(204.9,371.4) scale(0.98,1)" font-size="58.7" text-anchor="end">0.8</text>
<text transform="translate(204.9,103.4) scale(0.98,1)" font-size="58.7" text-anchor="end">1.0</text>
<rect class="ax" x="1333.5" y="18.5" width="859.0" height="1410.0"/>
<path class="tk" d="M1333.5,1428.5v25.5 M1333.5,18.5v25.5 M1410.2,1428.5v12.5 M1410.2,18.5v12.5 M1486.9,1428.5v25.5 M1486.9,18.5v25.5 M1563.6,1428.5v12.5 M1563.6,18.5v12.5 M1640.3,1428.5v25.5 M1640.3,18.5v25.5 M1717,1428.5v12.5 M1717,18.5v12.5 M1793.7,1428.5v25.5 M1793.7,18.5v25.5 M1870.4,1428.5v12.5 M1870.4,18.5v12.5 M1947.1,1428.5v25.5 M1947.1,18.5v25.5 M2023.8,1428.5v12.5 M2023.8,18.5v12.5 M2100.5,1428.5v25.5 M2100.5,18.5v25.5 M2177.2,1428.5v12.5 M2177.2,18.5v12.5 M1333.5,1428.5h-25.5 M2192.5,1428.5h-25.5 M1333.5,1294.2h-12.5 M2192.5,1294.2h-12.5 M1333.5,1159.9h-25.5 M2192.5,1159.9h-25.5 M1333.5,1025.6h-12.5 M2192.5,1025.6h-12.5 M1333.5,891.3h-25.5 M2192.5,891.3h-25.5 M1333.5,757h-12.5 M2192.5,757h-12.5 M1333.5,622.7h-25.5 M2192.5,622.7h-25.5 M1333.5,488.4h-12.5 M2192.5,488.4h-12.5 M1333.5,354.1h-25.5 M2192.5,354.1h-25.5 M1333.5,219.8h-12.5 M2192.5,219.8h-12.5 M1333.5,85.5h-25.5 M2192.5,85.5h-25.5"/>
<text transform="translate(1333.5,1518) scale(0.98,1)" font-size="58.7" text-anchor="middle">550</text>
<text transform="translate(1486.9,1518) scale(0.98,1)" font-size="58.7" text-anchor="middle">575</text>
<text transform="translate(1640.3,1518) scale(0.98,1)" font-size="58.7" text-anchor="middle">600</text>
<text transform="translate(1793.7,1518) scale(0.98,1)" font-size="58.7" text-anchor="middle">625</text>
<text transform="translate(1947.1,1518) scale(0.98,1)" font-size="58.7" text-anchor="middle">650</text>
<text transform="translate(2100.5,1518) scale(0.98,1)" font-size="58.7" text-anchor="middle">675</text>
<text transform="translate(1288.9,1443.6) scale(0.98,1)" font-size="58.7" text-anchor="end">0.0</text>
<text transform="translate(1288.9,1175.6) scale(0.98,1)" font-size="58.7" text-anchor="end">0.2</text>
<text transform="translate(1288.9,907.5) scale(0.98,1)" font-size="58.7" text-anchor="end">0.4</text>
<text transform="translate(1288.9,639.5) scale(0.98,1)" font-size="58.7" text-anchor="end">0.6</text>
<text transform="translate(1288.9,371.4) scale(0.98,1)" font-size="58.7" text-anchor="end">0.8</text>
<text transform="translate(1288.9,103.4) scale(0.98,1)" font-size="58.7" text-anchor="end">1.0</text>
<text x="427.2" y="1626.9" font-size="70">Wavelength, nm</text>
<text x="1510.6" y="1626.9" font-size="70">Wavelength, nm</text>
<text transform="translate(71.8,1115.1) rotate(-90)" font-size="70.2">Absorbance (normalized)</text>
<line class="lg" x1="282" y1="139.5" x2="426" y2="139.5" stroke="#9E0000"/>
<text transform="translate(442.8,160.5) scale(0.94,1)" font-size="65.8" font-weight="bold">5</text>
<line class="lg" x1="282" y1="220" x2="426" y2="220" stroke="#EE0000"/>
<text transform="translate(442.8,241) scale(0.94,1)" font-size="65.8" font-weight="bold">4e</text>
<line class="lg" x1="282" y1="300" x2="426" y2="300" stroke="#FF6E6E"/>
<text transform="translate(442.8,321) scale(0.94,1)" font-size="65.8" font-weight="bold">4a</text>
<line class="lg" x1="282" y1="380" x2="426" y2="380" stroke="#FF9999"/>
<text transform="translate(442.8,401) scale(0.94,1)" font-size="65.8" font-weight="bold">4c</text>
<line class="lg" x1="282" y1="460.5" x2="426" y2="460.5" stroke="#808080"/>
<text transform="translate(442.8,481.5) scale(0.94,1)" font-size="65.8" font-weight="bold">4</text>
<line class="lg" x1="1494.8" y1="138.6" x2="1636.7" y2="138.6" stroke="#000080"/>
<text transform="translate(1654.3,159.6) scale(0.94,1)" font-size="65.8" font-weight="bold">6</text>
<line class="lg" x1="1494.8" y1="218.6" x2="1636.7" y2="218.6" stroke="#0010C2"/>
<text transform="translate(1654.3,239.6) scale(0.94,1)" font-size="65.8" font-weight="bold">4f</text>
<line class="lg" x1="1494.8" y1="298.6" x2="1636.7" y2="298.6" stroke="#5575FF"/>
<text transform="translate(1654.3,319.6) scale(0.94,1)" font-size="65.8" font-weight="bold">4b</text>
<line class="lg" x1="1494.8" y1="378.6" x2="1636.7" y2="378.6" stroke="#889CFF"/>
<text transform="translate(1654.3,399.6) scale(0.94,1)" font-size="65.8" font-weight="bold">4d</text>
<line class="lg" x1="1494.8" y1="459" x2="1636.7" y2="459" stroke="#808080"/>
<text transform="translate(1654.3,480) scale(0.94,1)" font-size="65.8" font-weight="bold">4</text>
<text transform="translate(977.5,177.8) scale(0.963,1)" font-size="159">A</text>
<text transform="translate(2067.5,177.8) scale(0.979,1)" font-size="159">B</text>
</svg></body></html>
